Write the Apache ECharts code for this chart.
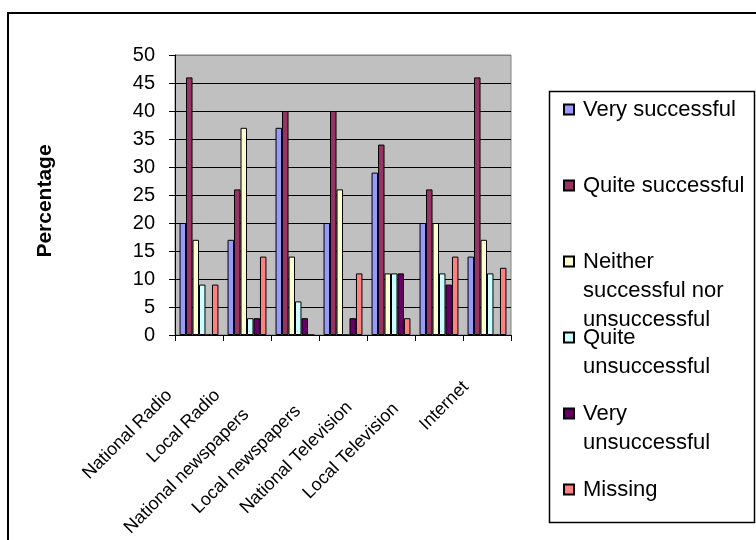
<!DOCTYPE html>
<html><head><meta charset="utf-8">
<script src="https://cdn.jsdelivr.net/npm/echarts@6/dist/echarts.min.js"></script>
<style>html,body{margin:0;padding:0;background:#fff}#c{width:756px;height:540px}</style>
</head><body><div id="c"></div>
<script>
// ---- data ----
const categories = ['National Radio', 'Local Radio', 'National newspapers', 'Local newspapers', 'National Television', 'Local Television', 'Internet'];
const seriesNames = ['Very successful', 'Quite successful', 'Neither successful nor unsuccessful', 'Quite unsuccessful', 'Very unsuccessful', 'Missing'];
const legendLabels = ['Very successful', 'Quite successful', 'Neither\nsuccessful nor\nunsuccessful', 'Quite\nunsuccessful', 'Very\nunsuccessful', 'Missing'];
const verySuccessful    = [20, 17, 37, 20, 29, 20, 14];
const quiteSuccessful   = [46, 26, 40, 40, 34, 26, 46];
const neither           = [17, 37, 14, 26, 11, 20, 17];
const quiteUnsuccessful = [9, 3, 6, 0, 11, 11, 11];
const veryUnsuccessful  = [0, 3, 3, 3, 11, 9, 0];
const missing           = [9, 14, 0, 11, 3, 14, 12];
const yMin = 0, yMax = 50, yStep = 5;
const yAxisTitle = 'Percentage';

// ---- styles ----
const FONT = 'Arial, "Liberation Sans", sans-serif';
const colors = ['#9999FF', '#993366', '#FFFFCC', '#CCFFFF', '#660066', '#FF8080'];
const labelEndShift = [42, 42, 69, 64, 59, 61, 30];
const LINE_H = 29;

const values = [verySuccessful, quiteSuccessful, neither, quiteUnsuccessful, veryUnsuccessful, missing];
const chart = echarts.init(document.getElementById('c'), null, {renderer: 'canvas'});

const rich = {};
labelEndShift.forEach((p, i) => {
  rich['c' + i] = {fontSize: 18, fontFamily: FONT, color: '#000', padding: [0, p, 0, 0]};
});

// legend entries: block of 5 lines, marker sits on the 3rd (middle) line = first text line
function legendText(name) {
  const lab = legendLabels[seriesNames.indexOf(name)];
  const n = lab.split('\n').length;
  let s = ' \n \n' + lab;
  for (let k = n; k < 3; k++) s += '\n ';
  return s;
}

const nSplit = Math.round((yMax - yMin) / yStep) + 1;
const splitColors = [];
for (let i = 0; i < nSplit; i++) splitColors.push(i === nSplit - 1 ? '#808080' : '#000000');

chart.setOption({
  animation: false,
  backgroundColor: '#ffffff',
  grid: {left: 175, right: 245, top: 55, bottom: 205, show: true, backgroundColor: '#C0C0C0', borderColor: '#808080', borderWidth: 1},
  legend: {
    orient: 'vertical', left: 563, top: 37, height: 1000, padding: 0,
    itemWidth: 10, itemHeight: 10, itemGap: -69, icon: 'rect', selectedMode: false,
    data: seriesNames,
    formatter: legendText,
    textStyle: {fontSize: 22, fontFamily: FONT, color: '#000', lineHeight: LINE_H, padding: [0, 0, 0, 4]}
  },
  xAxis: {
    type: 'category', data: categories,
    axisLine: {lineStyle: {color: '#000', width: 1}},
    axisTick: {show: true, length: 6, lineStyle: {color: '#000'}},
    axisLabel: {interval: 0, rotate: 45, margin: 28, formatter: (v, i) => `{c${i}|${v}}`, rich: rich, color: '#000', fontSize: 18, fontFamily: FONT},
    splitLine: {show: false}
  },
  yAxis: {
    type: 'value', min: yMin, max: yMax, interval: yStep,
    name: yAxisTitle, nameLocation: 'middle', nameGap: 119,
    nameTextStyle: {fontSize: 21, fontWeight: 'bold', fontFamily: FONT, color: '#000', padding: [0, 12, 0, 0]},
    axisLine: {show: true, lineStyle: {color: '#000', width: 1}},
    axisTick: {show: true, length: 6, lineStyle: {color: '#000'}},
    axisLabel: {fontSize: 20, fontFamily: FONT, color: '#000', margin: 20},
    splitLine: {show: true, lineStyle: {color: splitColors, width: 1}}
  },
  series: seriesNames.map((n, i) => ({
    name: n, type: 'bar', data: values[i],
    barGap: '0%', barCategoryGap: '19%',
    itemStyle: {color: colors[i], borderColor: '#000', borderWidth: 1}
  })),
  graphic: [
    {type: 'rect', silent: true, z: 100, shape: {x: 8, y: 13, width: 760, height: 540}, style: {fill: 'none', stroke: '#000', lineWidth: 2}},
    {type: 'rect', silent: true, z: 100, shape: {x: 549.5, y: 91.5, width: 205, height: 431}, style: {fill: 'none', stroke: '#000', lineWidth: 1.5}}
  ]
});
</script>
</body></html>
